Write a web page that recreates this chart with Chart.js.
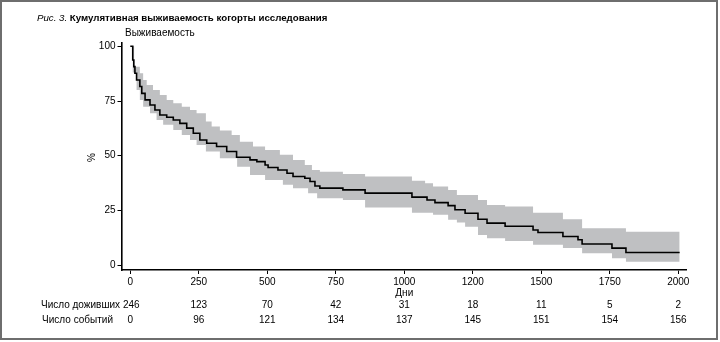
<!DOCTYPE html>
<html>
<head>
<meta charset="utf-8">
<script src="https://cdn.jsdelivr.net/npm/chart.js@4"></script>
<style>
  body { margin: 0; background: #fff; }
  #wrap { position: relative; width: 720px; height: 342px; }
  #frame { position: absolute; left: 0; top: 0; width: 714px; height: 336px; border: 2px solid #6e6e6e; pointer-events: none; }
</style>
</head>
<body>
<div id="wrap">
  <canvas id="kmChart" width="720" height="342"></canvas>
  <div id="frame"></div>
</div>
<script>
// =====================
// Data
// =====================
const survDays = [0, 9, 13, 17, 23, 35, 42, 54, 72, 90, 108, 133, 157, 181, 206, 230, 254, 279, 315, 352, 388, 437, 462, 492, 503, 539, 572, 594, 637, 656, 674, 692, 776, 857, 1028, 1083, 1112, 1160, 1185, 1222, 1269, 1302, 1368, 1470, 1488, 1579, 1634, 1649, 1758, 1809, 2005];
const survPct = [100, 93.7, 90.7, 87.7, 84.6, 81.6, 78.5, 75.5, 73.2, 70.9, 68.6, 67.6, 66.3, 64.8, 62.6, 60.3, 57.2, 55.7, 54.2, 51.9, 49.3, 48.1, 47.3, 45.8, 44.6, 43.5, 42.0, 40.5, 39.7, 38.2, 36.2, 35.2, 34.4, 32.9, 31.1, 29.8, 28.6, 27.2, 25.3, 23.7, 21.0, 19.2, 17.8, 16.1, 14.9, 13.1, 11.6, 9.7, 7.8, 5.8, 5.8];

// 95% CI band, upper and lower read at the same days
const bandDays = [0, 9, 14, 23, 35, 47, 60, 72, 83, 96, 108, 120, 133, 157, 188, 218, 242, 276, 297, 327, 370, 390, 400, 437, 448, 492, 546, 557, 594, 637, 649, 663, 682, 692, 776, 857, 1028, 1076, 1105, 1160, 1192, 1222, 1269, 1302, 1368, 1470, 1579, 1649, 1758, 1809, 2005];
const bandUpper = [100, 100, 90.7, 90.7, 87.7, 84.6, 82.3, 82.3, 80.0, 80.0, 77.7, 77.7, 75.5, 74.0, 72.4, 70.9, 69.4, 65.6, 63.3, 61.5, 59.5, 59.5, 56.4, 56.4, 54.2, 52.6, 50.4, 50.4, 48.1, 45.8, 45.8, 43.5, 43.5, 42.7, 41.7, 40.5, 38.6, 37.4, 35.9, 34.4, 32.1, 32.1, 29.8, 27.5, 26.8, 24.0, 21.0, 16.9, 16.9, 15.3, 15.3];
const bandLower = [100, 88.0, 88.0, 80.0, 75.5, 72.4, 72.4, 69.4, 69.4, 66.3, 66.3, 64.1, 64.1, 61.8, 59.5, 57.2, 54.9, 51.9, 51.9, 48.9, 48.9, 45.0, 45.0, 41.2, 41.2, 38.9, 38.9, 36.7, 35.2, 35.2, 32.9, 32.9, 30.6, 30.6, 29.8, 26.4, 24.0, 24.0, 23.0, 20.7, 19.5, 17.6, 13.8, 12.3, 11.1, 9.3, 7.8, 5.5, 3.2, 1.6, 1.6];

const xTickValues = [0, 250, 500, 750, 1000, 1250, 1500, 1750, 2000];
const xTickLabels = ["0", "250", "500", "750", "1000", "1200", "1500", "1750", "2000"];
const yTickValues = [0, 25, 50, 75, 100];
const atRisk = [246, 123, 70, 42, 31, 18, 11, 5, 2];
const events = [0, 96, 121, 134, 137, 145, 151, 154, 156];

const FONT = "'Liberation Sans', Arial, sans-serif";

function toPoints(xs, ys) {
  return xs.map((x, i) => ({ x: x, y: ys[i] }));
}

// =====================
// Extra text: title, axis names, numbers-at-risk table
// =====================
const textPlugin = {
  id: "kmText",
  afterDraw(chart) {
    const c = chart.ctx;
    const xs = chart.scales.x;
    const area = chart.chartArea;
    c.save();
    c.fillStyle = "#000";
    c.textBaseline = "middle";

    // title
    c.textAlign = "left";
    c.font = "italic 9.7px " + FONT;
    const pre = "Рис. 3. ";
    c.fillText(pre, 37, 18);
    const w = c.measureText(pre).width;
    c.font = "bold 9.7px " + FONT;
    c.fillText("Кумулятивная выживаемость когорты исследования", 37 + w, 18);

    // subtitle above plot
    c.font = "10px " + FONT;
    c.fillText("Выживаемость", 125, 33);

    // y axis name
    c.save();
    c.translate(92, (area.top + area.bottom) / 2 + 1);
    c.rotate(-Math.PI / 2);
    c.textAlign = "center";
    c.fillText("%", 0, 0);
    c.restore();

    // x axis name
    c.textAlign = "center";
    c.fillText("Дни", xs.getPixelForValue(1000), 293);

    // table
    c.textAlign = "right";
    c.fillText("Число доживших", 120, 305);
    c.fillText("Число событий", 113, 320);
    c.textAlign = "center";
    xTickValues.forEach((v, i) => {
      const px = xs.getPixelForValue(v);
      c.fillText(String(atRisk[i]), i === 0 ? px + 1 : px, 305);
      c.fillText(String(events[i]), px, 320);
    });
    c.restore();
  }
};

// =====================
// Chart
// =====================
new Chart(document.getElementById("kmChart"), {
  type: "line",
  data: {
    datasets: [
      {
        label: "upper",
        data: toPoints(bandDays, bandUpper),
        stepped: true,
        borderWidth: 0,
        pointRadius: 0,
        fill: false
      },
      {
        label: "lower",
        data: toPoints(bandDays, bandLower),
        stepped: true,
        borderWidth: 0,
        pointRadius: 0,
        backgroundColor: "#bfc0c2",
        fill: "-1"
      },
      {
        label: "Выживаемость",
        data: toPoints(survDays, survPct),
        stepped: true,
        borderColor: "#000",
        borderWidth: 1.6,
        pointRadius: 0,
        fill: false
      }
    ]
  },
  options: {
    responsive: false,
    animation: false,
    devicePixelRatio: 1,
    layout: { padding: { left: 0, right: 33.5, top: 43, bottom: 52 } },
    plugins: {
      legend: { display: false },
      tooltip: { enabled: false },
      filler: { drawTime: "beforeDatasetsDraw" }
    },
    scales: {
      x: {
        type: "linear",
        min: -32,
        max: 2030,
        afterBuildTicks: (s) => { s.ticks = xTickValues.map(v => ({ value: v })); },
        afterFit: (s) => { s.height = 20; },
        ticks: {
          color: "#000",
          font: { family: FONT, size: 10 },
          padding: 2,
          maxRotation: 0,
          autoSkip: false,
          callback: (v, i) => xTickLabels[i]
        },
        grid: { display: true, drawOnChartArea: false, drawTicks: true, tickLength: 4, color: "#000", lineWidth: 1 },
        border: { display: true, color: "#000", width: 1.6 }
      },
      y: {
        min: -2.2,
        max: 101.5,
        afterBuildTicks: (s) => { s.ticks = yTickValues.map(v => ({ value: v })); },
        afterFit: (s) => { s.width = 121.5; },
        ticks: {
          color: "#000",
          font: { family: FONT, size: 10 },
          padding: 2
        },
        grid: { display: true, drawOnChartArea: false, drawTicks: true, tickLength: 4, color: "#000", lineWidth: 1 },
        border: { display: true, color: "#000", width: 1.6 }
      }
    }
  },
  plugins: [textPlugin]
});
</script>
</body>
</html>
